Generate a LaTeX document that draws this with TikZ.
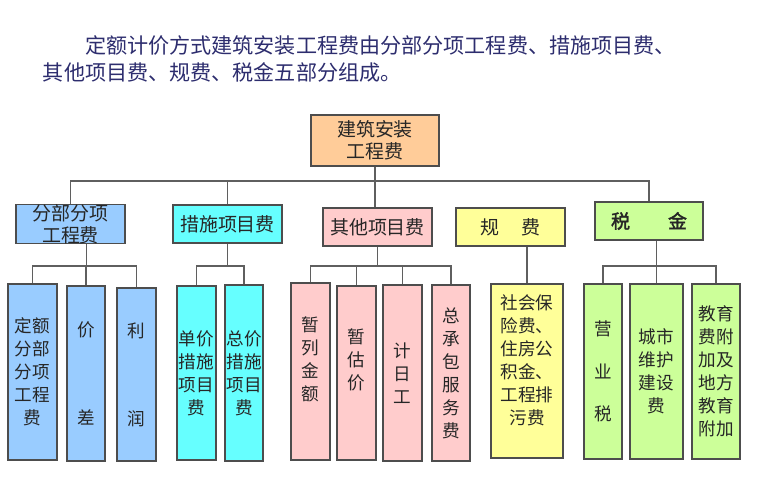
\documentclass[tikz,border=0pt]{standalone}
\usepackage{fontspec}
\setmainfont[AutoFakeBold=2]{Noto Sans CJK SC}
\definecolor{titleblue}{RGB}{45,45,110}
\definecolor{boxline}{RGB}{77,77,77}
\definecolor{lineg}{RGB}{95,95,95}
\definecolor{orangefill}{HTML}{FFCC99}
\definecolor{bluefill}{HTML}{99CCFF}
\definecolor{cyanfill}{HTML}{66FFFF}
\definecolor{pinkfill}{HTML}{FFCCCC}
\definecolor{yellowfill}{HTML}{FFFF99}
\definecolor{greenfill}{HTML}{CCFF99}
\def\pxu{0.025cm}
\tikzset{
  box/.style={draw=boxline, line width=0.9pt, inner sep=0pt, align=center, text=black!85},
  sz/.style 2 args={minimum width=#1*\pxu, minimum height=#2*\pxu},
  lvone/.style={box, font=\fontsize{13.5pt}{15.5pt}\selectfont},
  lvtwo/.style={box, font=\fontsize{12.5pt}{16.4pt}\selectfont},
  ln/.style={draw=lineg, line width=0.9pt},
}
\begin{document}
\begin{tikzpicture}[x=0.025cm,y=-0.025cm]
  \useasboundingbox (0,0) rectangle (760,499);
  \node[anchor=west, align=left, text=titleblue, font=\fontsize{15pt}{19.2pt}\selectfont] (title) at (38,58.5)
    {\hspace*{2em}定额计价方式建筑安装工程费由分部分项工程费、措施项目费、\\其他项目费、规费、税金五部分组成。};
  \node[lvone, sz={128}{51}, fill=orangefill] (top) at (375,140.5) {建筑安装\\工程费};
  \node[lvone, sz={109}{38}, fill=bluefill] (fb) at (70.5,224) {分部分项\\工程费};
  \node[lvone, sz={109}{38}, fill=cyanfill] (cs) at (227.5,224) {措施项目费};
  \node[lvone, sz={109}{38}, fill=pinkfill] (qt) at (377.5,227) {其他项目费};
  \node[lvone, sz={109}{38}, fill=yellowfill] (gf) at (510.5,227) {规\hspace{1.2em}费};
  \node[lvone, sz={108}{38}, fill=greenfill, font=\fontsize{13.5pt}{15.5pt}\selectfont\bfseries] (sj) at (649,221) {税\hspace{2em}金};
  \node[lvtwo, sz={49}{176}, fill=bluefill] (d1) at (32.5,372) {定额\\分部\\分项\\工程\\费};
  \node[lvtwo, sz={38}{175}, fill=bluefill] (d2) at (86,373.5) {价\\[46pt]差};
  \node[lvtwo, sz={39}{173}, fill=bluefill] (d3) at (136.5,374.5) {利\\[46pt]润};
  \node[lvtwo, sz={39}{174}, fill=cyanfill] (c1) at (196.5,373) {单价\\措施\\项目\\费};
  \node[lvtwo, sz={38}{176}, fill=cyanfill] (c2) at (244,373) {总价\\措施\\项目\\费};
  \node[lvtwo, sz={39}{177}, fill=pinkfill] (q1) at (310.5,371.5) {暂\\列\\金\\额\\[2pt]\mbox{}};
  \node[lvtwo, sz={39}{174}, fill=pinkfill] (q2) at (356.5,373) {暂\\估\\价\\[4pt]\mbox{}};
  \node[lvtwo, sz={39}{176}, fill=pinkfill] (q3) at (402.5,373) {计\\日\\工};
  \node[lvtwo, sz={38}{176}, fill=pinkfill] (q4) at (451,373) {总\\承\\包\\服\\务\\费};
  \node[lvtwo, sz={72}{174}, fill=yellowfill] (g1) at (527,371) {社会保\\险费、\\住房公\\积金、\\工程排\\污费\\[0pt]\mbox{}};
  \node[lvtwo, sz={38}{175}, fill=greenfill] (s1) at (603,371.5) {营\\[14pt]业\\[14pt]税};
  \node[lvtwo, sz={53}{175}, fill=greenfill] (s2) at (656.5,371.5) {城市\\维护\\建设\\费};
  \node[lvtwo, sz={48}{175}, fill=greenfill] (s3) at (716,371.5) {教育\\费附\\加及\\地方\\教育\\附加};
  \coordinate (bus) at (0,181);
  \coordinate (sub) at (0,266);
  \draw[ln] (fb.north) -- (fb.north |- bus) -| (sj.north);
  \draw[ln] (cs.north) -- (cs.north |- bus);
  \draw[ln] (top.south) -- (top.south |- qt.north);
  \draw[ln] (d1.north) -- (d1.north |- sub) -| (d3.north);
  \draw[ln] (d2.north) -- (d2.north |- sub);
  \draw[ln] ([xshift=16*\pxu]fb.south) -- ([xshift=16*\pxu]fb.south |- sub);
  \draw[ln] (c1.north) -- (c1.north |- sub) -| (c2.north);
  \draw[ln] (cs.south) -- (cs.south |- sub);
  \draw[ln] (q1.north) -- (q1.north |- sub) -| (q4.north);
  \draw[ln] (q2.north) -- (q2.north |- sub);
  \draw[ln] (q3.north) -- (q3.north |- sub);
  \draw[ln] (qt.south) -- (qt.south |- sub);
  \draw[ln] (g1.north |- gf.south) -- (g1.north);
  \draw[ln] (s1.north) -- (s1.north |- sub) -| (s3.north);
  \draw[ln] (s2.north) -- (s2.north |- sub);
  \draw[ln] (s2.north |- sj.south) -- (s2.north |- sub);
\end{tikzpicture}
\end{document}
